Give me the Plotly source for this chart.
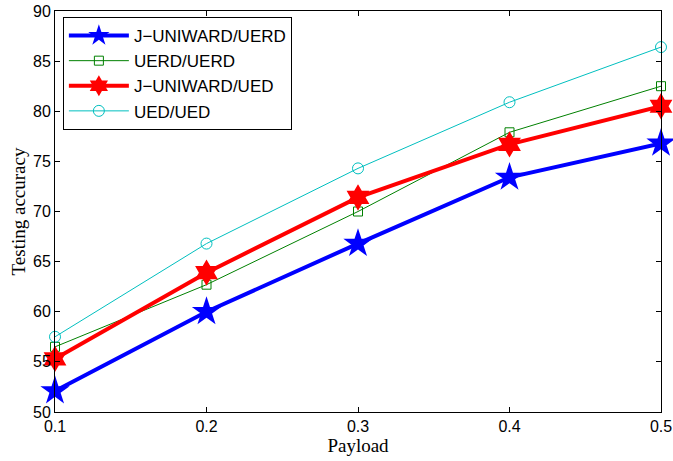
import plotly.graph_objects as go

payload = [0.1, 0.2, 0.3, 0.4, 0.5]
juniward_uerd = [52.1, 60.0, 66.8, 73.4, 76.8]
uerd_uerd = [56.5, 62.7, 70.0, 77.9, 82.5]
juniward_ued = [55.3, 63.9, 71.4, 76.7, 80.5]
ued_ued = [57.5, 66.8, 74.3, 80.9, 86.4]

fig = go.Figure()
fig.add_trace(go.Scatter(x=payload, y=juniward_uerd, name="J\u2212UNIWARD/UERD", mode="lines+markers",
                         cliponaxis=False,
                         line=dict(color="#0000ff", width=4),
                         marker=dict(symbol="star", size=22, color="#0000ff")))
fig.add_trace(go.Scatter(x=payload, y=uerd_uerd, name="UERD/UERD", mode="lines+markers",
                         cliponaxis=False,
                         line=dict(color="#008000", width=1),
                         marker=dict(symbol="square-open", size=9, color="#008000", line=dict(width=1))))
fig.add_trace(go.Scatter(x=payload, y=juniward_ued, name="J\u2212UNIWARD/UED", mode="lines+markers",
                         cliponaxis=False,
                         line=dict(color="#ff0000", width=4),
                         marker=dict(symbol="hexagram", size=20, color="#ff0000")))
fig.add_trace(go.Scatter(x=payload, y=ued_ued, name="UED/UED", mode="lines+markers",
                         cliponaxis=False,
                         line=dict(color="#00bfbf", width=1),
                         marker=dict(symbol="circle-open", size=11, color="#00bfbf", line=dict(width=1))))

axis_common = dict(showline=True, linecolor="black", linewidth=1, mirror="ticks",
                   ticks="inside", ticklen=5, tickcolor="black", showgrid=False, zeroline=False,
                   automargin=False,
                   tickfont=dict(family="Liberation Sans, Arial", size=16, color="black"))

fig.update_xaxes(range=[0.1, 0.5], tickvals=payload, ticktext=["0.1", "0.2", "0.3", "0.4", "0.5"],
                 title=dict(text="Payload", font=dict(family="Liberation Serif, Times New Roman", size=19, color="black"), standoff=0),
                 **axis_common)
fig.update_yaxes(range=[50, 90], tickvals=[50, 55, 60, 65, 70, 75, 80, 85, 90],
                 title=dict(text="Testing accuracy", font=dict(family="Liberation Serif, Times New Roman", size=19, color="black"), standoff=2),
                 **axis_common)

fig.update_layout(
    width=673, height=461,
    margin=dict(l=55, r=12, t=11, b=49),
    plot_bgcolor="white", paper_bgcolor="white",
    legend=dict(x=0.013, y=0.985, xanchor="left", yanchor="top",
                bgcolor="white", bordercolor="black", borderwidth=1,
                font=dict(family="Liberation Sans, Arial", size=17, color="black"),
                tracegroupgap=0, itemwidth=60),
)

fig.write_html("out.html", config={"displayModeBar": False},
               post_script="document.body.style.margin='0';")
